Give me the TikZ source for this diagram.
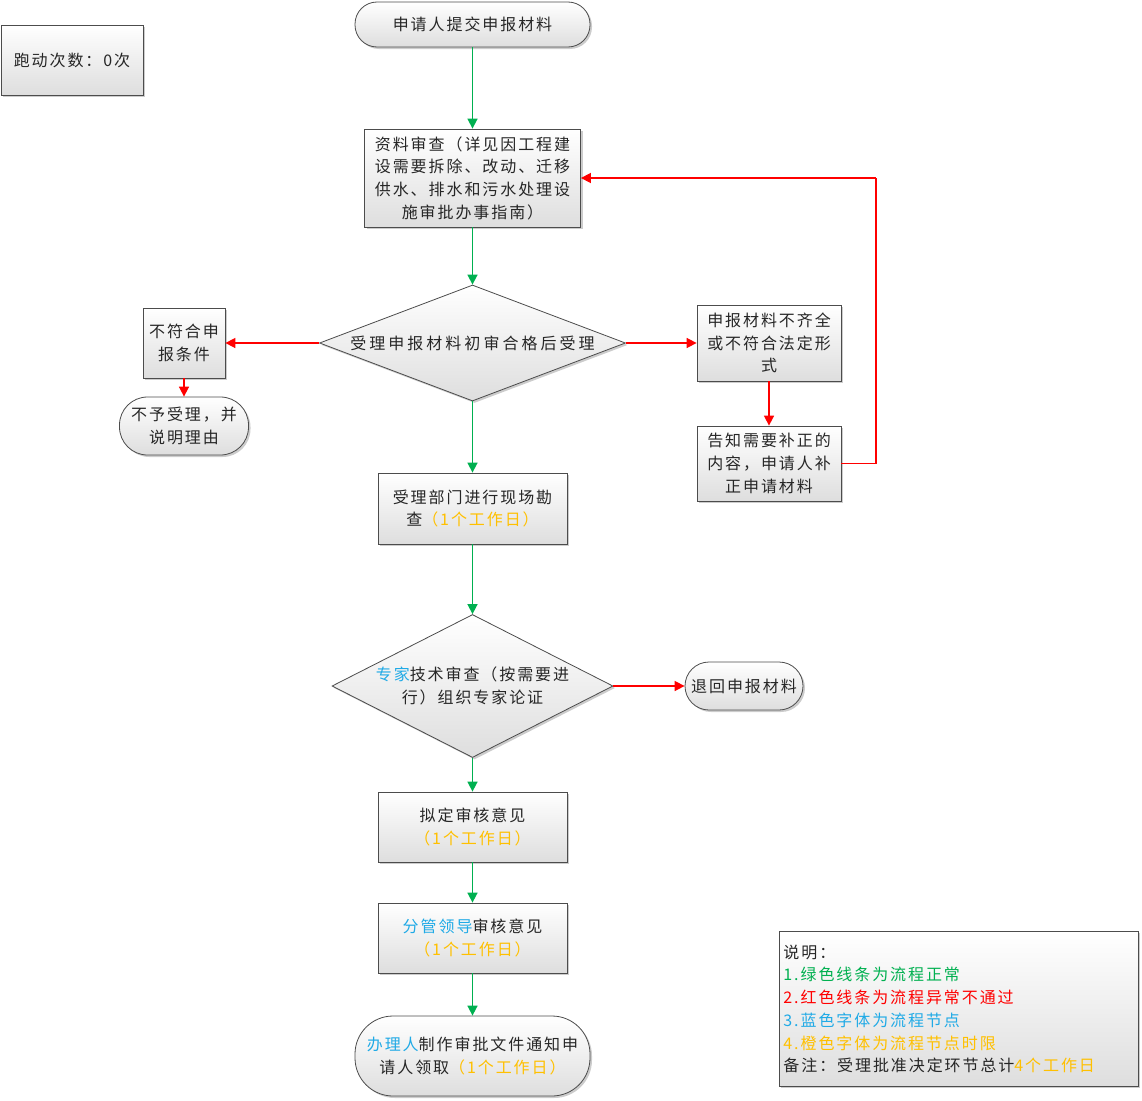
\documentclass[tikz,border=0pt]{standalone}
\usepackage{fontspec}
\newfontfamily\cjk[LetterSpace=12]{Noto Sans CJK SC}
\newfontfamily\cjkw[LetterSpace=19]{Noto Sans CJK SC}
\usetikzlibrary{arrows.meta,shapes.geometric,shadows}
\definecolor{flowgreen}{HTML}{00B050}
\definecolor{flowred}{HTML}{FF0000}
\definecolor{flowblue}{HTML}{20AAE6}
\definecolor{flowor}{HTML}{FFC000}
\newcommand\fsz{\fontsize{16}{22.7}\selectfont}
\tikzset{
  base/.style={draw=black!70, line width=0.8pt, top color=white, bottom color=black!13,
    font=\cjk\fsz, align=center, inner sep=0pt, text=black!85,
    drop shadow={shadow xshift=2pt, shadow yshift=-2pt, fill=black!40, opacity=0.5}},
  boxn/.style={base, rectangle},
  term/.style={base, rectangle},
  dia/.style={base, diamond, minimum width=306, minimum height=116},
  txt/.style={font=\cjk\fsz, align=center, inner sep=0pt, text=black!85},
  okarrow/.style={draw=flowgreen, line width=1.6pt, -{Triangle[length=10pt,width=10pt]}},
  noarrow/.style={draw=flowred, line width=1.6pt, -{Triangle[length=10pt,width=10pt]}},
  noline/.style={draw=flowred, line width=1.6pt}
}
\begin{document}
\begin{tikzpicture}[x=1pt,y=-1pt]
\useasboundingbox (0,0) rectangle (1142,1100);

\node[boxn, minimum width=142, minimum height=70] (count) at (72,60) {跑动次数：0次};
\node[term, minimum width=235, minimum height=45, rounded corners=22] (start) at (472.5,24.5) {申请人提交申报材料};
\node[boxn, minimum width=216, minimum height=98] (review) at (472.5,178) {资料审查（详见因工程建\\设需要拆除、改动、迁移\\供水、排水和污水处理设\\施审批办事指南）};
\node[dia] (acc) at (472.5,343) {};
\node[txt, font=\cjkw\fsz] (acct) at (acc) {受理申报材料初审合格后受理};
\node[boxn, minimum width=82, minimum height=70] (nq) at (184,343) {不符合申\\报条件};
\node[term, minimum width=129, minimum height=58, rounded corners=28] (rej) at (184,426) {不予受理，并\\说明理由};
\node[boxn, minimum width=144, minimum height=76] (inc) at (769,343) {申报材料不齐全\\或不符合法定形\\式};
\node[boxn, minimum width=144, minimum height=75] (fix) at (769,463.5) {告知需要补正的\\内容，申请人补\\正申请材料};
\coordinate (loop) at (876,178);
\node[boxn, minimum width=189, minimum height=71] (site) at (472.5,508.5) {受理部门进行现场勘\\查{\color{flowor}（1个工作日）}};
\node[dia, minimum width=281, minimum height=143] (exp) at (472.5,686) {};
\node[txt] (expt) at (exp) {{\color{flowblue}专家}技术审查（按需要进\\行）组织专家论证};
\node[term, minimum width=118, minimum height=48, rounded corners=24] (ret) at (744,686) {退回申报材料};
\node[boxn, minimum width=189, minimum height=70] (draft) at (472.5,827) {拟定审核意见\\{\color{flowor}（1个工作日）}};
\node[boxn, minimum width=189, minimum height=70] (lead) at (472.5,938) {{\color{flowblue}分管领导}审核意见\\{\color{flowor}（1个工作日）}};
\node[term, minimum width=235, minimum height=80, rounded corners=38] (fin) at (472.5,1056) {{\color{flowblue}办理人}制作审批文件通知申\\请人领取{\color{flowor}（1个工作日）}};

\node[boxn, anchor=north west, minimum width=359, minimum height=155, text width=351, align=left, inner xsep=4pt] (legend) at (779,931) {说明：\\
{\color{flowgreen}1.绿色线条为流程正常}\\
{\color{flowred}2.红色线条为流程异常不通过}\\
{\color{flowblue}3.蓝色字体为流程节点}\\
{\color{flowor}4.橙色字体为流程节点时限}\\
备注：受理批准决定环节总计{\color{flowor}4个工作日}};

\draw[okarrow] (start) -- (review);
\draw[okarrow] (review) -- (acc.north);
\draw[noarrow] (acc.west) -- (nq.east);
\draw[noarrow] (nq) -- (rej);
\draw[noarrow] (acc.east) -- (inc.west);
\draw[noarrow] (inc) -- (fix);
\draw[noline] (fix.east) -| (loop);
\draw[noarrow] (loop) -- (review.east);
\draw[okarrow] (acc.south) -- (site.north);
\draw[okarrow] (site.south) -- (exp.north);
\draw[noarrow] (exp.east) -- (ret.west);
\draw[okarrow] (exp.south) -- (draft.north);
\draw[okarrow] (draft) -- (lead);
\draw[okarrow] (lead) -- (fin);
\end{tikzpicture}
\end{document}
